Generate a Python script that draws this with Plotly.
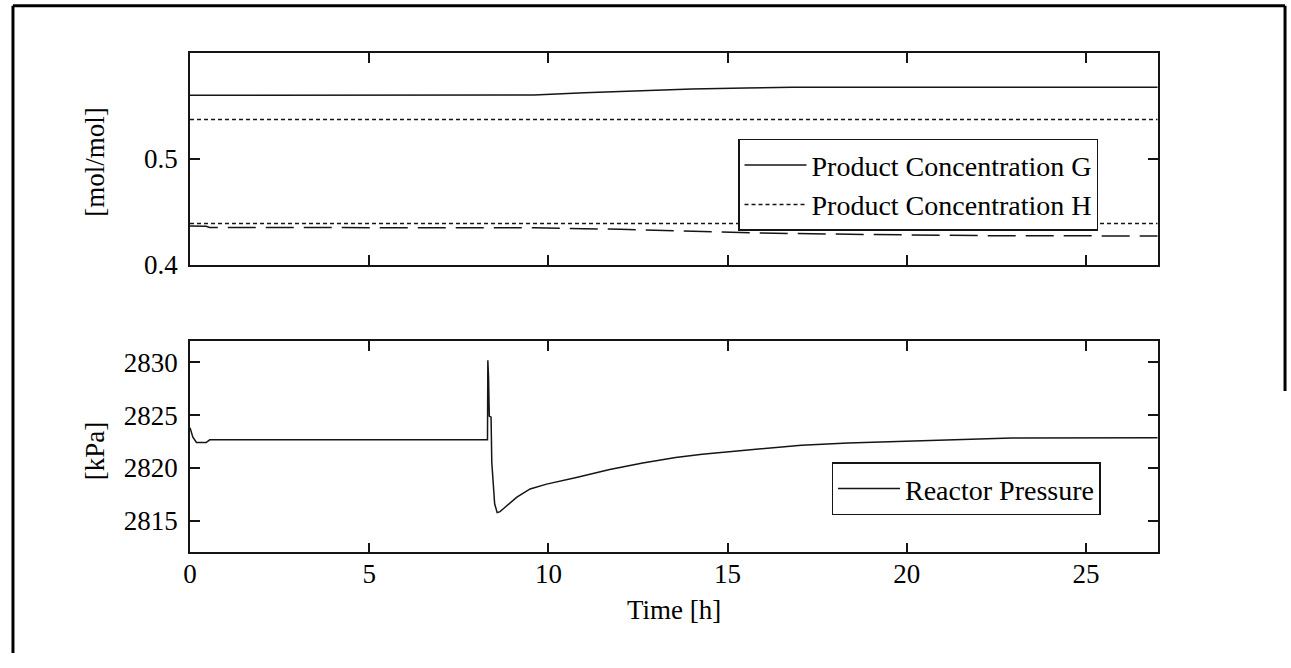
import plotly.graph_objects as go

# ---------------- data ----------------
t_G = [0, 9.6, 11.0, 12.5, 14.0, 15.5, 16.8, 27]
conc_G = [0.5598, 0.5600, 0.5620, 0.5640, 0.5655, 0.5666, 0.5672, 0.5673]

t_H = [0, 27]
conc_H_upper = [0.5368, 0.5368]
conc_H_lower = [0.4389, 0.4389]

t_L = [0, 0.45, 0.55, 9.6, 12.0, 14.3, 15.9, 18.0, 20.0, 22.5, 27]
conc_L = [0.4366, 0.4364, 0.4352, 0.4350, 0.4335, 0.4316, 0.4300, 0.4290, 0.4282, 0.4274, 0.4273]

t_P = [0, 0.08, 0.18, 0.45, 0.55, 8.30, 8.31, 8.33, 8.35, 8.40, 8.42, 8.50, 8.57,
       8.65, 8.75, 9.12, 9.49, 9.95, 10.78, 11.71, 12.63, 13.55, 14.29, 14.76,
       15.96, 17.06, 18.36, 20.75, 22.93, 27]
pressure = [2823.8, 2822.9, 2822.4, 2822.4, 2822.65, 2822.65, 2830.2, 2828.5, 2824.9,
            2824.8, 2820.5, 2816.6, 2815.76, 2815.85, 2816.15, 2817.23, 2818.0, 2818.46,
            2819.08, 2819.84, 2820.46, 2820.98, 2821.29, 2821.44, 2821.84, 2822.15,
            2822.35, 2822.6, 2822.82, 2822.85]

x_ticks = [0, 5, 10, 15, 20, 25]
y1_ticks = [0.4, 0.5]
y1_ticktext = ["0.4", "0.5"]
y2_ticks = [2815, 2820, 2825, 2830]

# ---------------- layout helpers ----------------
W, H = 1291, 668
FONT = "Liberation Serif, Times New Roman, serif"
FS = 27
FS_LEG = 28
INK = "#151515"

def px_x(p):
    return p / W

def px_y(p):
    return 1 - p / H

fig = go.Figure()

fig.add_trace(go.Scatter(x=t_G, y=conc_G, mode="lines", name="Product Concentration G",
                         line=dict(color=INK, width=1.5), xaxis="x", yaxis="y", legend="legend"))
fig.add_trace(go.Scatter(x=t_H, y=conc_H_upper, mode="lines", name="Product Concentration H",
                         line=dict(color=INK, width=1.5, dash="4px,3px"), xaxis="x", yaxis="y",
                         legend="legend"))
fig.add_trace(go.Scatter(x=t_H, y=conc_H_lower, mode="lines", showlegend=False,
                         line=dict(color=INK, width=1.5, dash="4px,3px"), xaxis="x", yaxis="y"))
fig.add_trace(go.Scatter(x=t_L, y=conc_L, mode="lines", showlegend=False,
                         line=dict(color=INK, width=1.5, dash="28px,10px"), xaxis="x", yaxis="y"))
fig.add_trace(go.Scatter(x=t_P, y=pressure, mode="lines", name="Reactor Pressure",
                         line=dict(color=INK, width=1.5), xaxis="x2", yaxis="y2", legend="legend2"))

xdom = [px_x(184), px_x(1157)]
axis_common = dict(showline=True, linecolor=INK, linewidth=1.5, mirror="ticks",
                   ticks="inside", ticklen=10, tickwidth=1.5, tickcolor=INK,
                   showgrid=False, zeroline=False,
                   tickfont=dict(family=FONT, size=FS, color="black"))

legend_font = dict(family=FONT, size=FS_LEG, color="black")

fig.update_layout(
    width=W, height=H,
    margin=dict(l=0, r=0, t=0, b=0),
    paper_bgcolor="white", plot_bgcolor="white",
    font=dict(family=FONT, size=FS, color="black"),
    xaxis=dict(domain=xdom, range=[0, 27], tickvals=x_ticks, showticklabels=False,
               anchor="y", **axis_common),
    yaxis=dict(domain=[px_y(271), px_y(54)], range=[0.4, 0.5997], tickvals=y1_ticks,
               ticktext=y1_ticktext, anchor="x", ticklabelstandoff=5, **axis_common),
    xaxis2=dict(domain=xdom, range=[0, 27], tickvals=x_ticks, anchor="y2",
                ticklabelstandoff=-3, **axis_common),
    yaxis2=dict(domain=[px_y(565), px_y(349)], range=[2812, 2832], tickvals=y2_ticks,
                anchor="x2", ticklabelstandoff=5, **axis_common),
    legend=dict(x=px_x(735), y=px_y(142), xanchor="left", yanchor="top",
                bordercolor=INK, borderwidth=1.5, bgcolor="white",
                font=legend_font, itemwidth=62, tracegroupgap=0),
    legend2=dict(x=px_x(829), y=px_y(473), xanchor="left", yanchor="top",
                 bordercolor=INK, borderwidth=1.5, bgcolor="white",
                 font=legend_font, itemwidth=62),
    showlegend=True,
)

fig.add_annotation(text="[mol/mol]", x=px_x(89), y=px_y(166), xref="paper", yref="paper",
                   textangle=-90, showarrow=False, xanchor="center", yanchor="middle",
                   font=dict(family=FONT, size=FS, color="black"))
fig.add_annotation(text="[kPa]", x=px_x(88), y=px_y(462), xref="paper", yref="paper",
                   textangle=-90, showarrow=False, xanchor="center", yanchor="middle",
                   font=dict(family=FONT, size=FS, color="black"))
fig.add_annotation(text="Time [h]", x=px_x(670.5), y=px_y(624), xref="paper", yref="paper",
                   showarrow=False, xanchor="center", yanchor="middle",
                   font=dict(family=FONT, size=FS, color="black"))

# outer frame
frame = dict(type="line", xref="paper", yref="paper", line=dict(color="black", width=3))
fig.add_shape(x0=px_x(6), x1=px_x(6), y0=px_y(6), y1=px_y(668), **frame)
fig.add_shape(x0=px_x(6), x1=px_x(1285), y0=px_y(6), y1=px_y(6), **frame)
fig.add_shape(x0=px_x(1285), x1=px_x(1285), y0=px_y(6), y1=px_y(400), **frame)

fig.write_html("out.html")
